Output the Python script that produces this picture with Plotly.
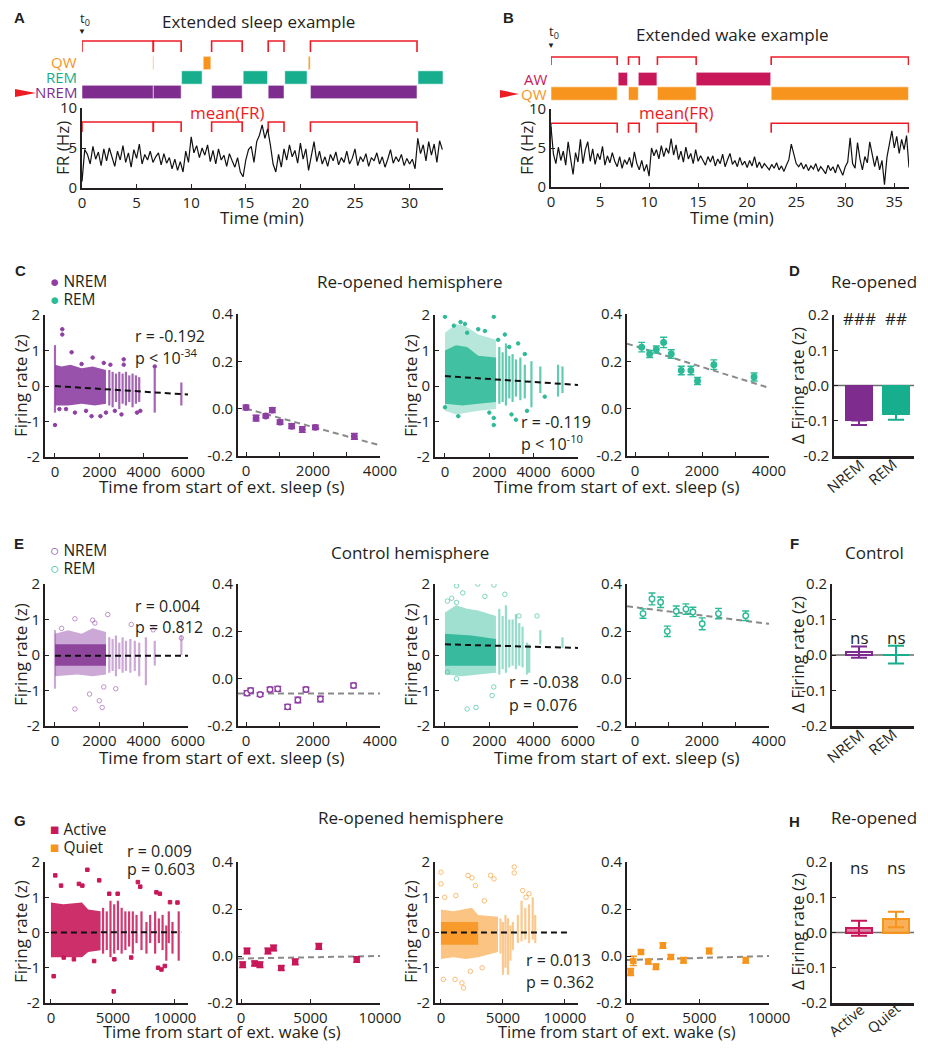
import plotly.graph_objects as go

# page is shown with the browser's default 8px body margin: lay the figure out in page pixels
PAGE_W, PAGE_H = 928, 1050
OX, OY = 8, 8
FW, FH = PAGE_W - 2 * OX, PAGE_H - 2 * OY
FONT = "Open Sans"
BOLD = "Liberation Sans"
INK = "#231f20"
RED = "#ED1C24"
PURPLE = "#7E2D8F"
PURPLE_PT = "#8E3FA3"
TEAL = "#16AE8D"
TEAL_PT = "#2DBA96"
ORANGE = "#F7941D"
MAGENTA = "#C8185A"
GREY = "#8a8a8a"

# ---------------- Panel A data (minutes / Hz) ----------------
a_nrem_start = [0, 6.53, 11.87, 17.05, 20.92]
a_nrem_end = [6.53, 9.08, 14.67, 18.5, 30.68]
a_rem_start = [9.12, 14.76, 18.57, 30.77]
a_rem_end = [11.0, 16.99, 20.61, 33.06]
a_qw_start = [6.49, 11.1, 20.72]
a_qw_end = [6.57, 11.8, 20.9]
a_bracket_start = [0, 6.53, 11.87, 17.05, 20.92]
a_bracket_end = [6.53, 9.08, 14.67, 18.5, 30.68]
a_fr_step = 0.25
a_fr = [0.8, 4.8, 4.2, 3.0, 5.2, 3.6, 4.5, 2.8, 4.9,
        3.4, 5.0, 3.9, 2.7, 4.6, 3.5, 5.3, 3.2,
        4.4, 2.6, 4.8, 3.7, 5.5, 3.0, 4.2, 3.5,
        4.6, 3.2, 3.9, 4.4, 2.9, 4.3, 3.1, 3.8,
        2.4, 3.6, 2.2, 3.3, 2.0, 4.6, 3.2, 6.4,
        4.4, 5.3, 3.8, 5.0, 4.1, 5.4, 3.3, 4.7,
        3.0, 4.9, 3.5, 4.1, 2.7, 4.3, 3.4, 2.6,
        3.8, 2.0, 1.4, 3.5, 4.8, 5.2, 3.2, 5.8,
        6.6, 7.9, 6.2, 7.4, 5.4, 3.0, 2.0, 4.2,
        2.6, 4.9, 3.5, 5.4, 3.9, 4.7, 3.1, 5.6,
        3.6, 4.9, 2.2, 4.0, 5.8, 3.3, 4.6, 3.0,
        3.9, 2.7, 4.2, 3.4, 4.5, 2.9, 3.8, 3.2,
        4.6, 3.0, 3.7, 4.9, 2.8, 3.9, 3.3, 4.3,
        2.7, 3.8, 3.4, 4.4, 3.0, 3.9, 2.6, 3.6,
        4.8, 3.1, 3.9, 3.3, 4.2, 2.8, 3.7, 3.0,
        3.6, 2.4, 6.2, 4.3, 5.4, 3.4, 5.8, 4.1,
        5.5, 3.2, 5.9, 4.8]

# ---------------- Panel B data ----------------
b_qw_start = [0, 7.9, 10.85, 22.45]
b_qw_end = [6.75, 8.9, 14.8, 36.45]
b_aw_start = [6.85, 8.9, 14.8]
b_aw_end = [7.8, 10.8, 22.4]
b_bracket_start = [0, 7.9, 10.85, 22.45]
b_bracket_end = [6.75, 9.0, 14.8, 36.45]
b_fr_step = 0.25
b_fr = [7.7, 4.2, 3.0, 5.1, 3.4, 4.6, 2.8, 5.8, 3.6,
        1.6, 4.4, 3.2, 6.1, 3.0, 4.8, 5.8, 3.3,
        4.9, 2.9, 4.3, 3.5, 5.2, 2.8, 4.0, 3.1,
        4.4, 3.3, 2.6, 3.9, 2.4, 3.5, 2.9, 3.8,
        2.5, 4.5, 3.0, 2.2, 3.4, 2.0, 2.9, 1.4,
        5.0, 4.0, 4.8, 3.6, 5.3, 3.9, 5.0, 4.3,
        6.2, 4.1, 5.4, 3.5, 4.6, 3.2, 5.1, 3.6,
        4.3, 3.0, 4.8, 3.3, 4.0, 3.4, 2.8, 3.9,
        3.2, 4.0, 2.7, 3.6, 3.0, 4.2, 2.6, 3.5,
        4.3, 2.9, 3.4, 2.6, 3.8, 2.8, 3.3, 2.5,
        3.4, 2.7, 3.9, 2.5, 3.2, 2.4, 3.0, 2.6,
        2.2, 2.9, 2.4, 3.1, 2.2, 2.7, 2.0, 2.8,
        3.5, 5.5, 4.4, 3.0, 2.6, 3.1, 2.3, 2.9,
        2.1, 2.7, 2.3, 3.0, 2.0, 2.6, 2.2, 1.7,
        2.8, 2.1, 2.6, 1.8, 2.9, 2.3, 1.5, 2.6,
        3.2, 6.3, 3.0, 2.4, 5.7, 3.6, 2.2, 3.9,
        3.1, 5.8, 4.4, 2.6, 4.0, 2.2, 3.4, 0.3,
        3.8, 5.5, 7.2, 5.0, 6.5, 4.3, 6.1, 4.8,
        6.6, 2.5]

# ---------------- Scatter clouds (time s, z) ----------------
# C NREM (re-opened)
cn_core_x = [0, 300, 700, 1200, 1700, 2300, 2300, 1800, 1200, 600, 0]
cn_core_y = [0.6, 0.55, 0.6, 0.5, 0.55, 0.45, -0.5, -0.55, -0.5, -0.55, -0.55]
cn_col_x = [0, 2450, 2600, 2750, 2900, 3050, 3200, 3350, 3500, 3650, 3800, 4500, 5700]
cn_col_lo = [-0.75, -0.55, -0.6, -0.45, -0.65, -0.5, -0.55, -0.45, -0.6, -0.5, -0.45, -0.75, -0.55]
cn_col_hi = [1.15, 0.45, 0.4, 0.35, 0.4, 0.35, 0.4, 0.3, 0.35, 0.3, 0.25, 0.5, 0.1]
cn_out_x = [330, 330, 750, 1700, 1200, 2200, 3100, 3100, 4500, 0, 200, 500, 900, 1650, 2050, 2300, 2700, 3000, 3700, 3850, 1400, 2500]
cn_out_y = [1.6, 1.45, 0.95, 0.8, 0.62, 0.65, 0.75, 0.6, 0.55, -1.1, -0.65, -0.65, -0.75, -0.85, -0.85, -0.75, -0.7, -0.8, -0.75, -0.7, -0.7, 0.6]
# C REM
cr_outer_x = [0, 500, 900, 1500, 2300, 2300, 1500, 500, 0]
cr_outer_y = [1.5, 1.75, 1.7, 1.45, 1.3, -0.65, -0.7, -0.8, -0.7]
cr_core_x = [0, 500, 1000, 1500, 2300, 2300, 1500, 800, 0]
cr_core_y = [1.0, 1.15, 1.1, 0.85, 0.8, -0.45, -0.5, -0.55, -0.5]
cr_col_x = [2450, 2600, 2750, 2900, 3050, 3200, 3400, 3600, 3900, 4300, 5100, 5300]
cr_col_lo = [-0.5, -0.45, -0.55, -0.35, -0.45, -0.3, -0.4, -0.35, -0.6, -0.2, -0.3, -0.2]
cr_col_hi = [1.1, 0.95, 1.2, 0.85, 0.9, 0.75, 0.8, 0.6, 0.7, 0.55, 0.6, 0.55]
cr_out_x = [0, 2200, 400, 700, 900, 1000, 1500, 2700, 3300, 3600, 2000, 2200, 2200, 3000, 3700, 3200, 600, 0, 4500, 1800, 2400, 2900]
cr_out_y = [1.95, 1.95, 1.7, 1.8, 1.75, 1.5, 1.6, 1.45, 1.2, 0.9, -0.75, -1.1, -0.9, -0.8, -0.7, -0.95, -0.85, -0.6, -0.3, 1.55, 1.3, 1.1]
# E NREM (control)
en_outer_x = [0, 600, 1200, 1700, 2300, 2300, 1700, 1000, 0]
en_outer_y = [0.6, 0.7, 0.6, 0.75, 0.65, -0.55, -0.6, -0.55, -0.6]
en_core_x = [0, 1200, 2300, 2300, 1200, 0]
en_core_y = [0.3, 0.3, 0.3, -0.3, -0.3, -0.3]
en_col_x = [0, 2450, 2600, 2750, 2900, 3050, 3200, 3400, 3600, 3800, 4100, 4500, 5700]
en_col_lo = [-0.95, -0.5, -0.45, -0.6, -0.4, -0.5, -0.45, -0.5, -0.45, -0.6, -0.85, -0.3, 0.0]
en_col_hi = [0.7, 0.5, 0.45, 0.55, 0.35, 0.5, 0.4, 0.45, 0.4, 0.35, 0.5, 0.4, 0.55]
en_out_x = [900, 2380, 3440, 4430, 5700, 900, 2000, 2130, 1560, 2740, 1700, 1800, 300, 2200]
en_out_y = [1.02, 1.14, 0.86, 0.71, 0.48, -1.52, -1.29, -1.48, -1.1, -0.95, 0.98, 0.9, 0.75, -0.9]
# E REM
er_outer_x = [0, 500, 1000, 1500, 2300, 2300, 1500, 800, 0]
er_outer_y = [1.2, 1.4, 1.3, 1.25, 1.1, -0.5, -0.55, -0.6, -0.55]
er_core_x = [0, 1200, 2300, 2300, 1200, 0]
er_core_y = [0.6, 0.55, 0.45, -0.3, -0.3, -0.3]
er_col_x = [2450, 2600, 2750, 2900, 3050, 3200, 3350, 3500, 3700, 3800, 4300, 5300]
er_col_lo = [-0.55, -0.4, -0.5, -0.35, -0.3, -0.4, -0.3, -0.35, -0.55, -0.5, 0.3, 0.2]
er_col_hi = [1.3, 1.1, 1.4, 1.0, 1.0, 1.15, 0.9, 0.8, 0.35, 0.3, 0.7, 0.5]
er_out_x = [110, 520, 1480, 2210, 2700, 520, 3340, 4150, 1000, 1400, 2130, 520, 110, 2200, 800, 1800, 300]
er_out_y = [1.52, 1.95, 2.0, 1.97, 1.71, 1.48, 1.1, 1.1, -1.52, -1.48, -1.14, -0.67, -0.48, -0.9, 1.75, 1.65, 1.6]
# G Active (wake)
ga_core_x = [0, 1000, 2500, 3000, 4000, 4000, 3000, 2500, 1000, 0]
ga_core_y = [0.85, 0.8, 0.85, 0.65, 0.6, -0.5, -0.55, -0.7, -0.7, -0.7]
ga_col_x = [4200, 4500, 4800, 5100, 5400, 5700, 6000, 6300, 6600, 6900, 7300, 7700, 8000, 8400, 8700, 9000, 9300, 9500, 9800, 10300]
ga_col_lo = [-0.6, -0.5, -0.7, -0.6, -0.5, -0.6, -0.5, -0.4, -0.6, -0.3, -0.5, -0.6, -0.3, -0.6, -0.3, -0.5, -0.8, -0.3, -0.6, -0.8]
ga_col_hi = [0.7, 0.6, 0.9, 0.8, 0.9, 0.7, 0.6, 0.6, 0.6, 0.5, 0.6, 0.3, 0.5, 0.6, 0.4, 0.5, 0.2, 0.6, 0.3, 0.6]
ga_out_x = [350, 815, 2935, 2255, 2530, 3890, 4700, 5380, 7010, 8500, 8780, 9600, 220, 5060, 8640, 8910, 9180, 1030, 1850, 3480, 5110, 6470, 7200, 10200]
ga_out_y = [1.62, 1.33, 1.78, 1.38, 1.33, 1.48, 1.1, 1.1, 1.43, 1.14, 1.1, 0.86, -1.24, -1.67, -1.0, -1.05, -0.95, -0.71, -0.76, -0.81, -0.76, -0.71, 1.3, 0.85]
# G Quiet
gq_outer_x = [0, 1000, 2500, 3000, 4600, 4600, 3000, 2000, 1000, 0]
gq_outer_y = [0.65, 0.6, 0.7, 0.5, 0.45, -0.55, -0.7, -0.75, -0.7, -0.75]
gq_core_x = [0, 3000, 3000, 0]
gq_core_y = [0.3, 0.3, -0.35, -0.35]
gq_col_x = [4800, 5000, 5200, 5400, 5600, 5800, 6200, 6500, 6800, 7100, 7400, 7600]
gq_col_lo = [-0.6, -1.2, -1.0, -1.2, -0.8, -0.5, -0.3, -0.25, -0.2, -0.3, -0.2, -0.3]
gq_col_hi = [0.4, 0.3, 0.5, 0.4, 0.2, 0.3, 0.5, 0.9, 0.7, 0.8, 1.0, 0.5]
gq_out_x = [0, 0, 2180, 2500, 2780, 4000, 4280, 5910, 5910, 6590, 6860, 190, 1140, 1820, 1690, 2370, 3320, 300, 1200, 3500, 7100]
gq_out_y = [1.71, 1.38, 1.62, 1.55, 1.33, 1.62, 1.52, 1.86, 1.69, 1.19, 1.0, -1.33, -1.33, -1.57, -1.43, -1.1, -1.0, 1.0, 1.05, 0.9, 1.1]

# regression lines on scatter panels
cn_fit_x, cn_fit_y = [0, 6000], [0.0, -0.24]
cr_fit_x, cr_fit_y = [0, 6000], [0.28, 0.03]
en_fit_x, en_fit_y = [0, 6000], [-0.02, -0.02]
er_fit_x, er_fit_y = [0, 6000], [0.30, 0.20]
ga_fit_x, ga_fit_y = [0, 10500], [0.0, 0.01]
gq_fit_x, gq_fit_y = [0, 10300], [0.0, 0.0]

# ---------------- Binned means ----------------
cn_mean_t = [0, 300, 590, 785, 1015, 1363, 1680, 2070, 3233]
cn_mean = [0.005, -0.040, -0.031, -0.006, -0.057, -0.074, -0.088, -0.079, -0.117]
cn_mean_err = [0.010, 0.012, 0.008, 0.010, 0.009, 0.010, 0.012, 0.009, 0.012]
cn_mfit_x, cn_mfit_y = [0, 4000], [0.0, -0.155]
cr_mean_t = [198, 436, 635, 853, 1082, 1380, 1668, 1866, 2354, 3554]
cr_mean = [0.260, 0.231, 0.250, 0.280, 0.231, 0.161, 0.161, 0.117, 0.186, 0.134]
cr_mean_err = [0.020, 0.015, 0.015, 0.022, 0.018, 0.018, 0.018, 0.015, 0.020, 0.017]
cr_mfit_x, cr_mfit_y = [-240, 4000], [0.275, 0.088]
en_mean_t = [30, 137, 420, 716, 947, 1242, 1547, 1789, 2221, 3210]
en_mean = [-0.061, -0.050, -0.067, -0.046, -0.043, -0.119, -0.090, -0.046, -0.086, -0.029]
en_mean_err = [0.010, 0.010, 0.008, 0.010, 0.010, 0.010, 0.012, 0.010, 0.012, 0.010]
en_mfit_x, en_mfit_y = [-240, 4000], [-0.063, -0.063]
er_mean_t = [238, 506, 764, 963, 1231, 1519, 1727, 2005, 2491, 3305]
er_mean = [0.275, 0.337, 0.323, 0.200, 0.285, 0.294, 0.282, 0.232, 0.275, 0.266]
er_mean_err = [0.020, 0.025, 0.022, 0.022, 0.022, 0.022, 0.020, 0.025, 0.022, 0.020]
er_mfit_x, er_mfit_y = [-240, 4000], [0.306, 0.232]
ga_mean_t = [120, 431, 981, 1364, 1938, 2344, 2895, 3900, 5598, 8325]
ga_mean = [-0.037, 0.021, -0.032, -0.037, 0.021, 0.034, -0.051, -0.025, 0.041, -0.015]
ga_mean_err = [0.012, 0.012, 0.010, 0.012, 0.012, 0.012, 0.010, 0.012, 0.012, 0.012]
ga_mfit_x, ga_mfit_y = [-216, 10000], [-0.011, 0.0]
gq_mean_t = [48, 239, 789, 1316, 1866, 2368, 2943, 3852, 5694, 8325]
gq_mean = [-0.068, -0.021, 0.017, -0.024, -0.046, 0.045, -0.004, -0.018, 0.021, -0.018]
gq_mean_err = [0.015, 0.020, 0.008, 0.010, 0.012, 0.012, 0.010, 0.012, 0.012, 0.012]
gq_mfit_x, gq_mfit_y = [-216, 10000], [-0.017, 0.0]

# ---------------- Bar panels ----------------
sleep_labels = ["NREM", "REM"]
wake_labels = ["Active", "Quiet"]
d_vals, d_err = [-0.099, -0.080], [0.013, 0.017]
f_vals, f_err = [0.008, 0.001], [0.016, 0.025]
h_vals, h_err = [0.012, 0.037], [0.021, 0.022]

# ================= drawing =================
fig = go.Figure()
L = dict(template="none", width=FW, height=FH,
         margin=dict(l=0, r=0, t=0, b=0, pad=0, autoexpand=False), paper_bgcolor="white",
         plot_bgcolor="white", showlegend=False, font=dict(family=FONT, size=15, color=INK))
shapes, anns = [], []
n = [0]


def PX(x):
    return (x - OX) / FW


def PY(y):
    return 1 - (y - OY) / FH


def axes(l, r, t, b, xr, yr, xt=None, xtt=None, yt=None, ytt=None, show=True,
         xlw=1.6, xticks="inside", xminor=None, xlabels=True, xstand=None):
    n[0] += 1
    s = "" if n[0] == 1 else str(n[0])
    dx = [PX(l), PX(r)]
    dy = [PY(b), PY(t)]
    if show:
        xa = dict(domain=dx, range=xr, anchor="y" + s, showline=True, linecolor=INK, linewidth=xlw,
                  ticks=xticks, ticklen=4, tickwidth=1.3, tickcolor=INK, showgrid=False,
                  zeroline=False, automargin=False, tickfont=dict(size=15, color=INK, family=FONT))
        if xstand is not None:
            xa["ticklabelstandoff"] = xstand
        if xlabels:
            xa.update(tickmode="array", tickvals=xt,
                      ticktext=xtt if xtt is not None else [str(v) for v in xt])
        else:
            xa.update(showticklabels=False)
        if xminor is not None:
            xa["minor"] = dict(tickvals=xminor, ticks="inside", ticklen=4, tickwidth=1.3, tickcolor=INK,
                               showgrid=False)
        ya = dict(domain=dy, range=yr, anchor="x" + s, showline=True, linecolor=INK, linewidth=1.6,
                  ticks="inside", ticklen=4, tickwidth=1.3, tickcolor=INK, tickmode="array",
                  tickvals=yt, ticktext=ytt if ytt is not None else [str(v) for v in yt],
                  tickfont=dict(size=15, color=INK, family=FONT), showgrid=False, zeroline=False,
                  automargin=False)
    else:
        xa = dict(domain=dx, range=xr, anchor="y" + s, visible=False, automargin=False)
        ya = dict(domain=dy, range=yr, anchor="x" + s, visible=False, automargin=False)
    L["xaxis" + s] = xa
    L["yaxis" + s] = ya
    return "x" + s, "y" + s


def text(t, x, y, size=15, color=INK, xanchor="center", yanchor="middle", angle=0, family=FONT):
    anns.append(dict(text=t, x=PX(x), y=PY(y), xref="paper", yref="paper", showarrow=False,
                     font=dict(size=size, color=color, family=family), xanchor=xanchor,
                     yanchor=yanchor, textangle=angle))


def segs(xa, ya, starts, ends, level, color):
    for s_, e_ in zip(starts, ends):
        shapes.append(dict(type="rect", xref=xa, yref=ya, x0=s_, x1=e_, y0=level - 0.46,
                           y1=level + 0.46, fillcolor=color,
                           line=dict(width=0.8, color="rgba(255,255,255,0.65)"), layer="above"))


def brackets(xa, ya, starts, ends, top, bottom):
    xs, ys = [], []
    for s_, e_ in zip(starts, ends):
        xs += [s_, s_, e_, e_, None]
        ys += [bottom, top, top, bottom, None]
    fig.add_trace(go.Scatter(x=xs, y=ys, mode="lines", line=dict(color=RED, width=1.6),
                             xaxis=xa, yaxis=ya, hoverinfo="skip"))


def cloud(xa, ya, polys, cx, clo, chi, ox, oy, color, symbol, size, col_color):
    for px, py, fc in polys:
        fig.add_trace(go.Scatter(x=px, y=py, fill="toself", fillcolor=fc, mode="lines",
                                 line=dict(width=0), xaxis=xa, yaxis=ya, hoverinfo="skip"))
    xs, ys = [], []
    for x_, lo, hi in zip(cx, clo, chi):
        xs += [x_, x_, None]
        ys += [lo, hi, None]
    fig.add_trace(go.Scatter(x=xs, y=ys, mode="lines", line=dict(color=col_color, width=2.2),
                             xaxis=xa, yaxis=ya, hoverinfo="skip"))
    fig.add_trace(go.Scatter(x=ox, y=oy, mode="markers",
                             marker=dict(symbol=symbol, size=size, color=color,
                                         line=dict(width=1, color=color)),
                             xaxis=xa, yaxis=ya, hoverinfo="skip"))


def fit(xa, ya, x, y, color, width=2.0):
    fig.add_trace(go.Scatter(x=x, y=y, mode="lines", line=dict(color=color, width=width, dash="6px,4px"),
                             xaxis=xa, yaxis=ya, hoverinfo="skip"))


def means(xa, ya, t, v, e, color, symbol, size, fill):
    fig.add_trace(go.Scatter(x=t, y=v, mode="markers",
                             marker=dict(symbol=symbol, size=size, color=color if fill else "white",
                                         line=dict(color=color, width=1.4)),
                             error_y=dict(type="data", array=e, color=color, thickness=1.4, width=3.5),
                             xaxis=xa, yaxis=ya, hoverinfo="skip"))


# ---------- Panel A ----------
ax, ay = axes(82, 443, 108, 188, [0, 33.06], [0, 10], xt=[0, 5, 10, 15, 20, 25, 30], yt=[0, 5, 10])
hx, hy = axes(82, 443, 30, 105, [0, 33.06], [-0.9, 4.28], show=False)
segs(hx, hy, a_nrem_start, a_nrem_end, 0, PURPLE)
segs(hx, hy, a_rem_start, a_rem_end, 1, TEAL)
segs(hx, hy, a_qw_start, a_qw_end, 2, ORANGE)
brackets(hx, hy, a_bracket_start, a_bracket_end, 3.52, 2.76)
brackets(ax, ay, a_bracket_start, a_bracket_end, 8.25, 7.0)
fig.add_trace(go.Scatter(x0=0, dx=a_fr_step, y=a_fr, mode="lines", line=dict(color="#111", width=1.2),
                         xaxis=ax, yaxis=ay, hoverinfo="skip"))
text("<b>A</b>", 19, 17, size=15, family=BOLD)
text("Extended sleep example", 258, 22, size=17)
text("t<sub>0</sub>", 85, 19, size=13)
text("▼", 82, 31, size=8)
text("QW", 79, 62, size=15, color=ORANGE, xanchor="right")
text("REM", 79, 77, size=15, color=TEAL, xanchor="right")
text("NREM", 79, 92, size=15, color=PURPLE, xanchor="right")
text("mean(FR)", 227, 113, size=17, color=RED)
text("FR (Hz)", 62, 148, size=17, angle=-90)
text("Time (min)", 262, 218, size=17)

# ---------- Panel B ----------
bx, by = axes(551, 909, 109, 187, [0, 36.5], [0, 10], xt=[0, 5, 10, 15, 20, 25, 30, 35], yt=[0, 5, 10])
hbx, hby = axes(551, 909, 30, 105, [0, 36.5], [-0.79, 4.38], show=False)
segs(hbx, hby, b_qw_start, b_qw_end, 0, ORANGE)
segs(hbx, hby, b_aw_start, b_aw_end, 1, MAGENTA)
brackets(hbx, hby, b_bracket_start, b_bracket_end, 2.52, 1.97)
brackets(bx, by, b_bracket_start, b_bracket_end, 8.17, 6.96)
fig.add_trace(go.Scatter(x0=0, dx=b_fr_step, y=b_fr, mode="lines", line=dict(color="#111", width=1.2),
                         xaxis=bx, yaxis=by, hoverinfo="skip"))
text("<b>B</b>", 509, 17, size=15, family=BOLD)
text("Extended wake example", 732, 35, size=17)
text("t<sub>0</sub>", 554, 32, size=13)
text("▼", 551, 45, size=8)
text("AW", 549, 79, size=15, color=MAGENTA, xanchor="right")
text("QW", 549, 94, size=15, color=ORANGE, xanchor="right")
text("mean(FR)", 676, 113, size=17, color=RED)
text("FR (Hz)", 526, 148, size=17, angle=-90)
text("Time (min)", 732, 218, size=17)


def tri(x0, yc, x1, hh):
    return dict(type="path", xref="paper", yref="paper", fillcolor=RED, line=dict(width=0),
                path=f"M {PX(x0)},{PY(yc-hh)} L {PX(x1)},{PY(yc)} L {PX(x0)},{PY(yc+hh)} Z")


shapes.append(tri(15, 93, 36, 4))
shapes.append(tri(500, 94, 519, 4))

# ---------- rows C / E / G ----------
SC_Y = [-2, -1, 0, 1, 2]
SC_YT = ["-2", "-1", "0", "1", "2"]
M_Y = [-0.2, 0.0, 0.2, 0.4]
M_YT = ["-0.2", "0.0", "0.2", "0.4"]
SL_X = [0, 2000, 4000, 6000]
ML_X = [0, 2000, 4000]
ML_MINOR = [1000, 3000]
WK_X = [0, 5000, 10000]
WK_XT = ["0", "5000", "10000"]
B_Y = [-0.2, -0.1, 0.0, 0.1, 0.2]
B_YT = ["-0.2", "-0.1", "0.0", "0.1", "0.2"]


def bar_axes(l, t, b, labels, label_dy, size=15):
    x_, y_ = axes(l, 914, t, b, [-(859 - l) / 37.0, 1.486], [-0.2, 0.2], yt=B_Y, ytt=B_YT,
                  xlw=2.6, xticks="", xlabels=False)
    shapes.append(dict(type="line", xref=x_ + " domain", yref=y_, x0=0, x1=1, y0=0, y1=0,
                       line=dict(color="#6d6d6d", width=1.5), layer="below"))
    # rotated category labels just under the axis
    for i, lab in enumerate(labels):
        cx = 859 + 37 * i - 14 + (1 if len(lab) > 4 else 0)
        cy = b + label_dy[i]
        text(lab, cx, cy, size=size, angle=-40)
    return x_, y_


def bar(xa, ya, i, v, e, fill, line, sym=True):
    if sym:
        err = dict(type="data", array=[e], color=line, thickness=2, width=8)
    else:
        err = dict(type="data", symmetric=False, array=[0], arrayminus=[e], color=line, thickness=2, width=8)
    fig.add_trace(go.Bar(x=[i], y=[v], width=0.72, marker=dict(color=fill, line=dict(color=line, width=2)),
                         error_y=err, xaxis=xa, yaxis=ya, hoverinfo="skip"))


# Row C
c1x, c1y = axes(45, 188, 315, 457, [-450, 6000], [-2, 2], xt=SL_X, yt=SC_Y, ytt=SC_YT)
cloud(c1x, c1y, [(cn_core_x, cn_core_y, "rgba(142,63,163,0.9)")], cn_col_x, cn_col_lo, cn_col_hi,
      cn_out_x, cn_out_y, PURPLE_PT, "circle", 3.5, "rgba(142,63,163,0.8)")
fit(c1x, c1y, cn_fit_x, cn_fit_y, "#111")
c2x, c2y = axes(238, 380, 314, 456, [-240, 4000], [-0.2, 0.4], xt=ML_X, yt=M_Y, ytt=M_YT, xminor=ML_MINOR)
fit(c2x, c2y, cn_mfit_x, cn_mfit_y, GREY)
means(c2x, c2y, cn_mean_t, cn_mean, cn_mean_err, PURPLE_PT, "circle", 5.5, True)
c3x, c3y = axes(435, 578, 315, 457, [-450, 6000], [-2, 2], xt=SL_X, yt=SC_Y, ytt=SC_YT)
cloud(c3x, c3y, [(cr_outer_x, cr_outer_y, "rgba(45,186,150,0.35)"), (cr_core_x, cr_core_y, "rgba(45,186,150,0.85)")],
      cr_col_x, cr_col_lo, cr_col_hi, cr_out_x, cr_out_y, TEAL_PT, "circle", 3.5, "rgba(45,186,150,0.75)")
fit(c3x, c3y, cr_fit_x, cr_fit_y, "#111")
c4x, c4y = axes(627, 769, 314, 456, [-240, 4000], [-0.2, 0.4], xt=ML_X, yt=M_Y, ytt=M_YT, xminor=ML_MINOR)
fit(c4x, c4y, cr_mfit_x, cr_mfit_y, GREY)
means(c4x, c4y, cr_mean_t, cr_mean, cr_mean_err, TEAL_PT, "circle", 5.5, True)
dx_, dy_ = bar_axes(834, 315, 456, sleep_labels, [20, 16])
bar(dx_, dy_, 0, d_vals[0], d_err[0], PURPLE, PURPLE, sym=False)
bar(dx_, dy_, 1, d_vals[1], d_err[1], TEAL, TEAL, sym=False)
anns.append(dict(text="###", x=0, y=0.19, xref=dx_, yref=dy_, showarrow=False,
                 font=dict(size=17, color=INK, family=FONT)))
anns.append(dict(text="##", x=1, y=0.19, xref=dx_, yref=dy_, showarrow=False,
                 font=dict(size=17, color=INK, family=FONT)))

text("<b>C</b>", 20, 270, size=15, family=BOLD)
text("Re-opened hemisphere", 409, 281, size=17)
text("<b>D</b>", 794, 270, size=15, family=BOLD)
text("Re-opened", 874, 281, size=17)
text(f'<span style="color:{PURPLE_PT}">●</span> NREM', 48, 281, size=15.5, xanchor="left")
text(f'<span style="color:{TEAL_PT}">●</span> REM', 48, 299, size=15.5, xanchor="left")
text("r = -0.192", 133, 336, size=16, xanchor="left")
text("p < 10<sup>-34</sup>", 133, 357, size=16, xanchor="left")
text("r = -0.119", 519, 422, size=16, xanchor="left")
text("p < 10<sup>-10</sup>", 519, 443, size=16, xanchor="left")
text("Firing rate (z)", 20, 386, size=17, angle=-90)
text("Firing rate (z)", 410, 386, size=17, angle=-90)
text("Δ Firing rate (z)", 797, 386, size=17, angle=-90)
text("Time from start of ext. sleep (s)", 222, 487, size=17)
text("Time from start of ext. sleep (s)", 617, 487, size=17)

# Row E
e1x, e1y = axes(45, 188, 584, 726, [-450, 6000], [-2, 2], xt=SL_X, yt=SC_Y, ytt=SC_YT)
cloud(e1x, e1y, [(en_outer_x, en_outer_y, "rgba(142,63,163,0.45)"), (en_core_x, en_core_y, "rgba(126,45,143,0.8)")],
      en_col_x, en_col_lo, en_col_hi, en_out_x, en_out_y, "rgba(142,63,163,0.55)", "circle-open", 4.5,
      "rgba(142,63,163,0.45)")
fit(e1x, e1y, en_fit_x, en_fit_y, "#111")
e2x, e2y = axes(238, 380, 584, 726, [-240, 4000], [-0.2, 0.4], xt=ML_X, yt=M_Y, ytt=M_YT, xminor=ML_MINOR)
fit(e2x, e2y, en_mfit_x, en_mfit_y, GREY)
means(e2x, e2y, en_mean_t, en_mean, en_mean_err, PURPLE_PT, "circle", 5.5, False)
e3x, e3y = axes(435, 578, 584, 726, [-450, 6000], [-2, 2], xt=SL_X, yt=SC_Y, ytt=SC_YT)
cloud(e3x, e3y, [(er_outer_x, er_outer_y, "rgba(45,186,150,0.45)"), (er_core_x, er_core_y, "rgba(22,174,141,0.75)")],
      er_col_x, er_col_lo, er_col_hi, er_out_x, er_out_y, "rgba(45,186,150,0.6)", "circle-open", 4.5,
      "rgba(45,186,150,0.5)")
fit(e3x, e3y, er_fit_x, er_fit_y, "#111")
e4x, e4y = axes(627, 769, 584, 726, [-240, 4000], [-0.2, 0.4], xt=ML_X, yt=M_Y, ytt=M_YT, xminor=ML_MINOR)
fit(e4x, e4y, er_mfit_x, er_mfit_y, GREY)
means(e4x, e4y, er_mean_t, er_mean, er_mean_err, TEAL_PT, "circle", 5.5, False)
fx, fy = bar_axes(832, 584, 726, sleep_labels, [20, 16])
bar(fx, fy, 0, f_vals[0], f_err[0], "rgba(255,255,255,0)", PURPLE)
bar(fx, fy, 1, f_vals[1], f_err[1], "rgba(255,255,255,0)", TEAL)
anns.append(dict(text="ns", x=0, y=0.05, xref=fx, yref=fy, showarrow=False,
                 font=dict(size=17, color=INK, family=FONT)))
anns.append(dict(text="ns", x=1, y=0.05, xref=fx, yref=fy, showarrow=False,
                 font=dict(size=17, color=INK, family=FONT)))

text("<b>E</b>", 19, 543, size=15, family=BOLD)
text("Control hemisphere", 410, 552, size=17)
text("<b>F</b>", 794, 543, size=15, family=BOLD)
text("Control", 874, 552, size=17)
text(f'<span style="color:{PURPLE_PT}">○</span> NREM', 48, 550, size=15.5, xanchor="left")
text(f'<span style="color:{TEAL_PT}">○</span> REM', 48, 568, size=15.5, xanchor="left")
text("r = 0.004", 133, 606, size=16, xanchor="left")
text("p = 0.812", 133, 627, size=16, xanchor="left")
text("r = -0.038", 507, 682, size=16, xanchor="left")
text("p = 0.076", 507, 705, size=16, xanchor="left")
text("Firing rate (z)", 20, 655, size=17, angle=-90)
text("Firing rate (z)", 410, 655, size=17, angle=-90)
text("Δ Firing rate (z)", 797, 655, size=17, angle=-90)
text("Time from start of ext. sleep (s)", 222, 757, size=17)
text("Time from start of ext. sleep (s)", 617, 757, size=17)

# Row G
g1x, g1y = axes(45, 188, 862, 1003, [-480, 11050], [-2, 2], xt=WK_X, xtt=WK_XT, yt=SC_Y, ytt=SC_YT, xstand=0)
cloud(g1x, g1y, [(ga_core_x, ga_core_y, "rgba(200,24,90,0.9)")], ga_col_x, ga_col_lo, ga_col_hi,
      ga_out_x, ga_out_y, MAGENTA, "square", 3.5, "rgba(200,24,90,0.85)")
fit(g1x, g1y, ga_fit_x, ga_fit_y, "#111")
g2x, g2y = axes(238, 380, 862, 1003, [-216, 10000], [-0.2, 0.4], xt=WK_X, xtt=WK_XT, yt=M_Y, ytt=M_YT, xstand=0)
fit(g2x, g2y, ga_mfit_x, ga_mfit_y, GREY)
means(g2x, g2y, ga_mean_t, ga_mean, ga_mean_err, MAGENTA, "square", 5, True)
g3x, g3y = axes(435, 578, 862, 1003, [-480, 11050], [-2, 2], xt=WK_X, xtt=WK_XT, yt=SC_Y, ytt=SC_YT, xstand=0)
cloud(g3x, g3y, [(gq_outer_x, gq_outer_y, "rgba(247,148,29,0.55)"), (gq_core_x, gq_core_y, "rgba(247,148,29,0.85)")],
      gq_col_x, gq_col_lo, gq_col_hi, gq_out_x, gq_out_y, "rgba(247,148,29,0.6)", "circle-open", 4.5,
      "rgba(247,148,29,0.5)")
fit(g3x, g3y, gq_fit_x, gq_fit_y, "#111")
g4x, g4y = axes(627, 769, 862, 1003, [-216, 10000], [-0.2, 0.4], xt=WK_X, xtt=WK_XT, yt=M_Y, ytt=M_YT, xstand=0)
fit(g4x, g4y, gq_mfit_x, gq_mfit_y, GREY)
means(g4x, g4y, gq_mean_t, gq_mean, gq_mean_err, ORANGE, "square", 5, True)
hx2, hy2 = bar_axes(832, 862, 1003, wake_labels, [17, 15], size=14.5)
bar(hx2, hy2, 0, h_vals[0], h_err[0], "rgba(200,24,90,0.55)", MAGENTA)
bar(hx2, hy2, 1, h_vals[1], h_err[1], "rgba(247,148,29,0.75)", ORANGE)
anns.append(dict(text="ns", x=0, y=0.185, xref=hx2, yref=hy2, showarrow=False,
                 font=dict(size=17, color=INK, family=FONT)))
anns.append(dict(text="ns", x=1, y=0.185, xref=hx2, yref=hy2, showarrow=False,
                 font=dict(size=17, color=INK, family=FONT)))

text("<b>G</b>", 20, 820, size=15, family=BOLD)
text("Re-opened hemisphere", 410, 817, size=17)
text("<b>H</b>", 794, 821, size=15, family=BOLD)
text("Re-opened", 874, 817, size=17)
text(f'<span style="color:{MAGENTA}">■</span> Active', 48, 829, size=15.5, xanchor="left")
text(f'<span style="color:{ORANGE}">■</span> Quiet', 48, 847, size=15.5, xanchor="left")
text("r = 0.009", 125, 851, size=16, xanchor="left")
text("p = 0.603", 125, 869, size=16, xanchor="left")
text("r = 0.013", 524, 960, size=16, xanchor="left")
text("p = 0.362", 524, 982, size=16, xanchor="left")
text("Firing rate (z)", 20, 932, size=17, angle=-90)
text("Firing rate (z)", 410, 932, size=17, angle=-90)
text("Δ Firing rate (z)", 797, 932, size=17, angle=-90)
text("Time from start of ext. wake (s)", 222, 1031, size=16.5)
text("Time from start of ext. wake (s)", 617, 1031, size=16.5)

L["shapes"] = shapes
L["annotations"] = anns
L["bargap"] = 0
fig.update_layout(**L)
fig.write_html("out.html")
